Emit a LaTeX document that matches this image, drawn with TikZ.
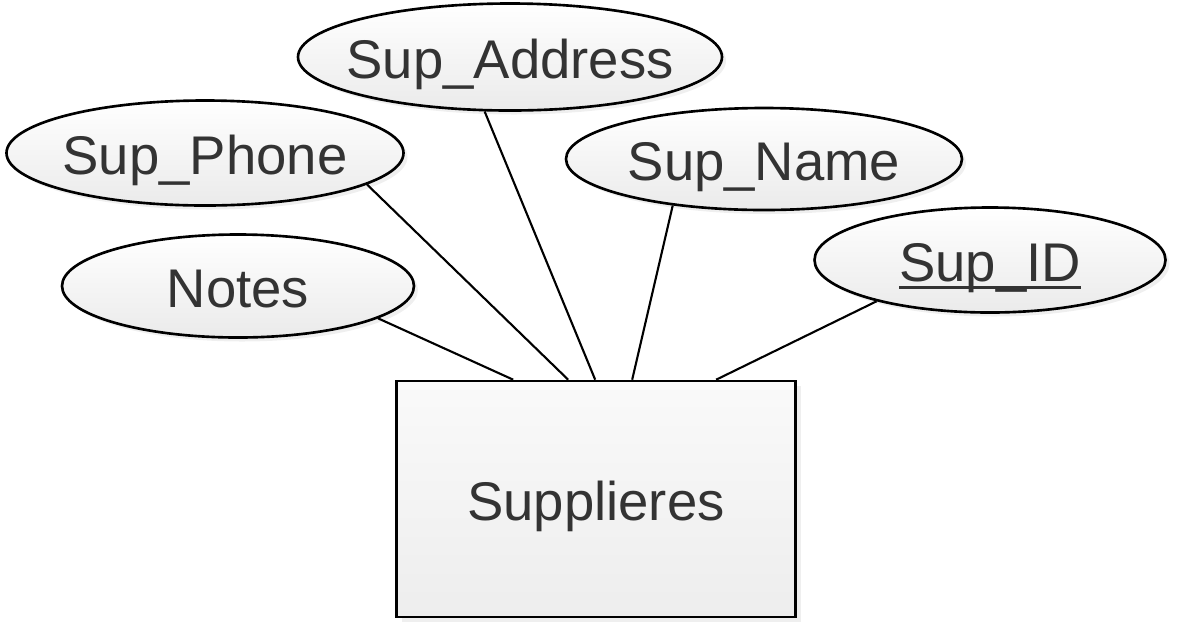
\documentclass[tikz,border=0pt]{standalone}
\usepackage{fontspec}
\setmainfont{Liberation Sans}
\usetikzlibrary{shapes.geometric,shadows}

\newcommand{\keyul}[1]{\setbox0\hbox{#1}\rlap{\rule[-0.13em]{\wd0}{1.8pt}}\box0}

\definecolor{txtgray}{HTML}{333333}
\tikzset{
  attr/.style={ellipse, draw, line width=1.5pt, inner xsep=-2cm, inner ysep=-0.5cm, text=txtgray,
    top color=white, bottom color=black!8, text height=26pt, text depth=1.4pt,
    drop shadow={shadow xshift=0.08cm, shadow yshift=-0.08cm, fill=black!12},
    font=\fontsize{31}{36}\selectfont},
  entity/.style={rectangle, draw, line width=1.5pt, inner sep=0pt, text=txtgray,
    top color=black!2, bottom color=black!7, text height=26pt, text depth=1.4pt,
    drop shadow={shadow xshift=0.1cm, shadow yshift=-0.1cm, fill=black!12},
    font=\fontsize{31}{36}\selectfont},
  link/.style={line width=1.2pt}
}

\begin{document}
\begin{tikzpicture}
    \useasboundingbox (0,0) rectangle (23.54,-12.6);

    % entity
    \node[entity, minimum width=7.98cm, minimum height=4.72cm] (suppl) at (11.92,-9.98) {Supplieres};

    % attributes
    \node[attr, minimum width=8.48cm, minimum height=2.14cm] (address) at (10.2,-1.14) {Sup\_Address};
    \node[attr, minimum width=7.94cm, minimum height=2.1cm] (phone) at (4.1,-3.06) {Sup\_Phone};
    \node[attr, minimum width=7.92cm, minimum height=2.04cm] (name) at (15.28,-3.18) {Sup\_Name};
    \node[attr, minimum width=7.04cm, minimum height=2.06cm] (notes) at (4.76,-5.72) {Notes};
    \node[attr, minimum width=7.02cm, minimum height=2.1cm] (supid) at (19.8,-5.2) {\keyul{Sup\_ID}};

    % ends on the top of the box
    \coordinate (t1) at ([xshift=2.36cm]suppl.north west);
    \coordinate (t2) at ([xshift=3.46cm]suppl.north west);
    \coordinate (t3) at ([xshift=4.0cm]suppl.north west);
    \coordinate (t4) at ([xshift=4.74cm]suppl.north west);
    \coordinate (t5) at ([xshift=6.42cm]suppl.north west);

    \draw[link] (notes.-13) -- (t1);
    \draw[link] (phone.-11) -- (t2);
    \draw[link] (address.-115) -- (t3);
    \draw[link] (name.-153) -- (t4);
    \draw[link] (supid.-160) -- (t5);
\end{tikzpicture}
\end{document}
